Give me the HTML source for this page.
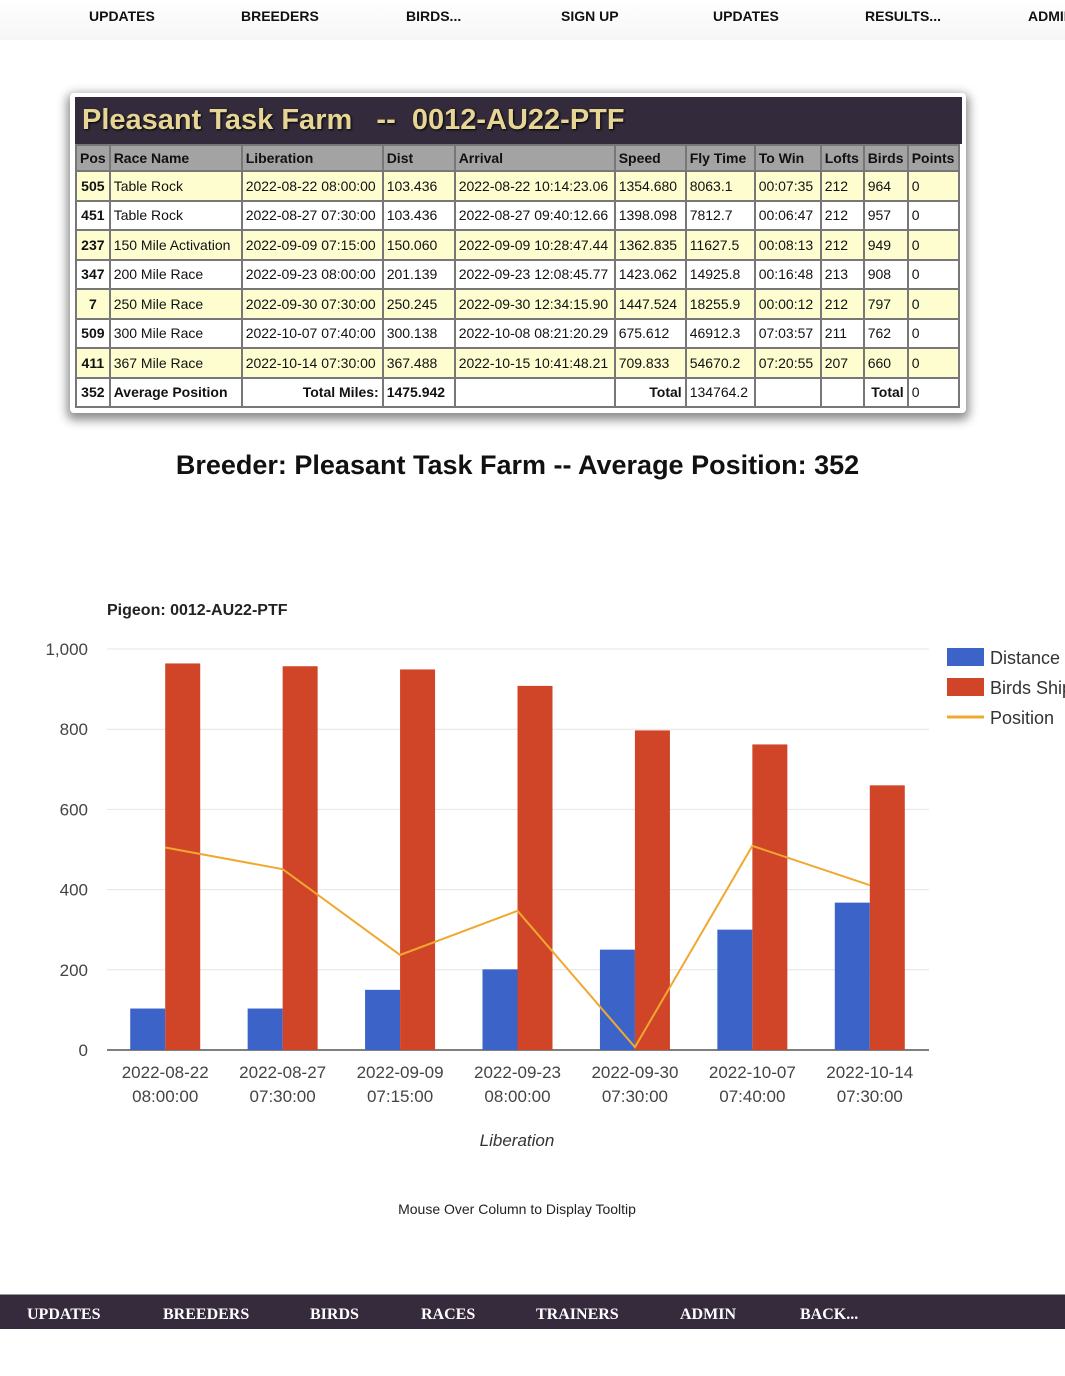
<!DOCTYPE html>
<html><head><meta charset="utf-8"><style>
body{margin:0;width:1065px;height:1376px;background:#fff;font-family:"Liberation Sans",sans-serif;position:relative;overflow:hidden}
.topnav{position:absolute;top:0;left:0;width:1065px;height:40px;background:linear-gradient(#fff,#f6f6f6)}
.topnav span{position:absolute;top:8px;font-weight:bold;font-size:14px;color:#111}
.box{position:absolute;left:70px;top:93px;width:896px;height:320px;background:#fff;box-shadow:0 4px 10px 3px rgba(0,0,0,.45);border-radius:4px}
.title{position:absolute;left:75px;top:97px;width:887px;height:47px;background:#332b3b;color:#e6d595;font-weight:bold;font-size:29px;line-height:47px;text-indent:7px;white-space:pre;text-shadow:1px 1px 2px #000}
table{position:absolute;left:75px;top:144px;border-collapse:collapse;table-layout:fixed;font-size:14px;color:#111}
td,th{border:2px solid #777;padding:0 3px;height:27.5px;white-space:nowrap;overflow:hidden;text-align:left}
th{background:#a3a3a3;height:24px;font-size:14px}
tr.y td{background:#fdfdd0}
td.p{font-weight:bold;text-align:center;padding:0 1px}
.h1{position:absolute;top:450px;left:0;width:1035px;text-align:center;font-size:27px;font-weight:bold;color:#111}
.bot{position:absolute;left:0;top:1294px;width:1065px;height:34px;background:#352b3c;border-top:1px solid #999}
.bot span{position:absolute;top:11px;color:#fff;font-family:"Liberation Serif",serif;font-weight:bold;font-size:16px}
</style></head><body>
<div class="topnav">
<span style="left:89px">UPDATES</span>
<span style="left:241px">BREEDERS</span>
<span style="left:406px">BIRDS...</span>
<span style="left:561px">SIGN UP</span>
<span style="left:713px">UPDATES</span>
<span style="left:865px">RESULTS...</span>
<span style="left:1028px">ADMIN</span>
</div>
<div class="box"></div>
<div class="title">Pleasant Task Farm   --  0012-AU22-PTF</div>
<table>
<colgroup><col style="width:33px"><col style="width:132px"><col style="width:141px"><col style="width:72px"><col style="width:160px"><col style="width:71px"><col style="width:69px"><col style="width:66px"><col style="width:43px"><col style="width:44px"><col style="width:51px"></colgroup>
<tr><th>Pos</th><th>Race Name</th><th>Liberation</th><th>Dist</th><th>Arrival</th><th>Speed</th><th>Fly Time</th><th>To Win</th><th>Lofts</th><th>Birds</th><th>Points</th></tr>
<tr class="y"><td class="p">505</td><td>Table Rock</td><td>2022-08-22 08:00:00</td><td>103.436</td><td>2022-08-22 10:14:23.06</td><td>1354.680</td><td>8063.1</td><td>00:07:35</td><td>212</td><td>964</td><td>0</td></tr>
<tr><td class="p">451</td><td>Table Rock</td><td>2022-08-27 07:30:00</td><td>103.436</td><td>2022-08-27 09:40:12.66</td><td>1398.098</td><td>7812.7</td><td>00:06:47</td><td>212</td><td>957</td><td>0</td></tr>
<tr class="y"><td class="p">237</td><td>150 Mile Activation</td><td>2022-09-09 07:15:00</td><td>150.060</td><td>2022-09-09 10:28:47.44</td><td>1362.835</td><td>11627.5</td><td>00:08:13</td><td>212</td><td>949</td><td>0</td></tr>
<tr><td class="p">347</td><td>200 Mile Race</td><td>2022-09-23 08:00:00</td><td>201.139</td><td>2022-09-23 12:08:45.77</td><td>1423.062</td><td>14925.8</td><td>00:16:48</td><td>213</td><td>908</td><td>0</td></tr>
<tr class="y"><td class="p">7</td><td>250 Mile Race</td><td>2022-09-30 07:30:00</td><td>250.245</td><td>2022-09-30 12:34:15.90</td><td>1447.524</td><td>18255.9</td><td>00:00:12</td><td>212</td><td>797</td><td>0</td></tr>
<tr><td class="p">509</td><td>300 Mile Race</td><td>2022-10-07 07:40:00</td><td>300.138</td><td>2022-10-08 08:21:20.29</td><td>675.612</td><td>46912.3</td><td>07:03:57</td><td>211</td><td>762</td><td>0</td></tr>
<tr class="y"><td class="p">411</td><td>367 Mile Race</td><td>2022-10-14 07:30:00</td><td>367.488</td><td>2022-10-15 10:41:48.21</td><td>709.833</td><td>54670.2</td><td>07:20:55</td><td>207</td><td>660</td><td>0</td></tr>
<tr><td class="p">352</td><td><b>Average Position</b></td><td style="text-align:right"><b>Total Miles:</b></td><td><b>1475.942</b></td><td></td><td style="text-align:right"><b>Total</b></td><td>134764.2</td><td></td><td></td><td style="text-align:right"><b>Total</b></td><td>0</td></tr>
</table>
<div class="h1">Breeder: Pleasant Task Farm -- Average Position: 352</div>

<svg id="chart" width="1065" height="700" style="position:absolute;left:0;top:580px" font-family="Liberation Sans, sans-serif"></svg>

<div class="bot">
<span style="left:27px">UPDATES</span>
<span style="left:163px">BREEDERS</span>
<span style="left:310px">BIRDS</span>
<span style="left:421px">RACES</span>
<span style="left:536px">TRAINERS</span>
<span style="left:680px">ADMIN</span>
<span style="left:800px">BACK...</span>
</div>
<script>
const categories1 = ["2022-08-22","2022-08-27","2022-09-09","2022-09-23","2022-09-30","2022-10-07","2022-10-14"];
const categories2 = ["08:00:00","07:30:00","07:15:00","08:00:00","07:30:00","07:40:00","07:30:00"];
const distance = [103.436,103.436,150.06,201.139,250.245,300.138,367.488];
const birds = [964,957,949,908,797,762,660];
const position = [505,451,237,347,7,509,411];
const yTicks = [0,200,400,600,800,1000];
const yTickLabels = ["0","200","400","600","800","1,000"];

const svg=document.getElementById('chart');
const NS='http://www.w3.org/2000/svg';
const X0=107,X1=929,Y0=470,Y1=69,YMAX=1000;
const step=(X1-X0)/categories1.length;
const y=v=>Y0-(v/YMAX)*(Y0-Y1);
const xc=i=>X0+step*(i+0.5)-0.5;
function mk(t,a){const e=document.createElementNS(NS,t);for(const k in a)e.setAttribute(k,a[k]);svg.appendChild(e);return e;}
let t=mk('text',{x:107,y:35,'font-size':16,'font-weight':'bold',fill:'#222'});t.textContent='Pigeon: 0012-AU22-PTF';


yTicks.forEach((v,i)=>{
 const g=mk('line',{x1:X0,x2:X1,y1:y(v),y2:y(v),stroke:v===0?'#555':'#e4e4e4','stroke-width':v===0?1.5:1});
 
 
 const l=mk('text',{x:88,y:y(v)+6,'text-anchor':'end','font-size':17,fill:'#444'});l.textContent=yTickLabels[i];
 
 
});
const bw=35;
categories1.forEach((c,i)=>{
 const b=mk('rect',{x:xc(i)-bw,y:y(distance[i]),width:bw,height:Y0-y(distance[i]),fill:'#3c63c8'});
 
 
 const r=mk('rect',{x:xc(i),y:y(birds[i]),width:bw,height:Y0-y(birds[i]),fill:'#d04527'});
 
 
 const l1=mk('text',{x:xc(i),y:Y0+28,'text-anchor':'middle','font-size':17,fill:'#444'});l1.textContent=c;
 
 
 const l2=mk('text',{x:xc(i),y:Y0+52,'text-anchor':'middle','font-size':17,fill:'#444'});l2.textContent=categories2[i];
 
 
});
const pl=mk('polyline',{points:position.map((v,i)=>xc(i)+','+y(v)).join(' '),fill:'none',stroke:'#f0a830','stroke-width':2});


const xt=mk('text',{x:517,y:566,'text-anchor':'middle','font-size':17,'font-style':'italic',fill:'#333'});xt.textContent='Liberation';


const ft=mk('text',{x:517,y:634,'text-anchor':'middle','font-size':14,fill:'#222'});ft.textContent='Mouse Over Column to Display Tooltip';


[['Distance','#3c63c8'],['Birds Shipped','#d04527'],['Position','#f0a830']].forEach((e,i)=>{
 const yy=77+i*30;
 let s;
 if(i<2)s=mk('rect',{x:947,y:yy-9,width:37,height:18,fill:e[1]});
 else s=mk('line',{x1:947,x2:984,y1:yy,y2:yy,stroke:e[1],'stroke-width':3});
 
 
 const l=mk('text',{x:990,y:yy+7,'font-size':18,fill:'#333'});l.textContent=e[0];
 
 
});
</script>
</body></html>
